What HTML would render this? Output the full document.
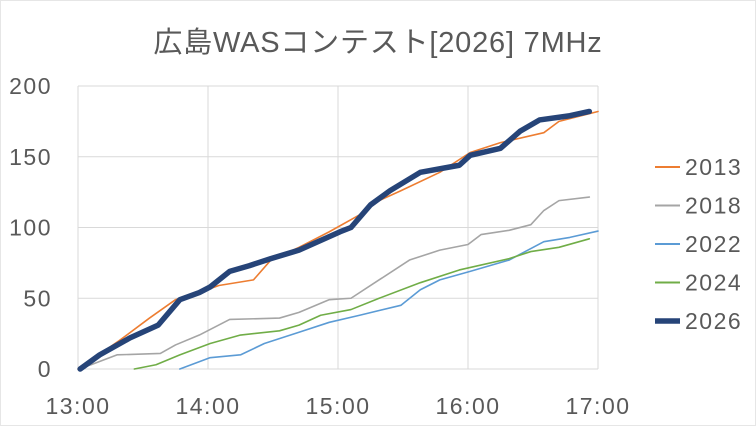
<!DOCTYPE html>
<html><head><meta charset="utf-8"><style>
body{margin:0;background:#fff;}
svg{display:block;font-family:"Liberation Sans","Noto Sans CJK JP",sans-serif;}
</style></head><body>
<svg id="chart" width="756" height="426" viewBox="0 0 756 426">
<rect x="0.5" y="0.5" width="755" height="425" fill="#fff" stroke="#e6e6e6"/>
<text x="378" y="52" text-anchor="middle" font-size="29" letter-spacing="0.8" fill="#595959">広島WASコンテスト[2026] 7MHz</text>
<g id="grid"></g><g id="series"></g><g id="axes"></g><g id="legend"></g>
</svg>
<script>
const xTicks=[0,60,120,180,240];
const xTickLabels=["13:00","14:00","15:00","16:00","17:00"];
const yTicks=[0,50,100,150,200];
const seriesNames=["2013","2018","2022","2024","2026"];
const seriesColors=["#ed7d31","#a5a5a5","#5b9bd5","#70ad47","#264478"];
const t2013=[0,19,33,45,56,65,81,89,102,116,130,139,149,167,181,195,215,222,240];
const v2013=[0,20,36,49,54,59,63,77,86,97,109,119,126,139,153,160,167,175,182];
const t2018=[0,6,18,38,45,56,70,93,102,116,126,139,153,167,180,186,199,209,215,222,236];
const v2018=[0,3,10,11,17,24,35,36,40,49,50,63,77,84,88,95,98,102,112,119,121.5];
const t2022=[47,61,75,86,102,116,130,149,158,167,181,199,215,227,240];
const v2022=[0,8,10,18,26,33,38,45,56,63,69,77,90,93,97.5];
const t2024=[26,36,47,61,75,93,102,112,126,139,158,176,199,209,222,236];
const v2024=[0,3,10,18,24,27,31,38,42,50,61,70,78,83,86,92];
const t2026=[1,10,24,37,47,56,61,70,79,89,102,121,126,135,144,158,176,181,195,204,213,227,236];
const v2026=[0,10,22,31,49,54,58,69,73,78,84,97,100,116,126,139,144,151,156,168,176,179,182];
const seriesT=[t2013,t2018,t2022,t2024,t2026];
const seriesV=[v2013,v2018,v2022,v2024,v2026];

const X0=78,X1=598,Y0=369,Y1=86;
const xs=t=>X0+(t/240)*(X1-X0);
const ys=v=>Y0-(v/200)*(Y0-Y1);
const NS="http://www.w3.org/2000/svg";
function mk(tag,parent){const e=document.createElementNS(NS,tag);document.getElementById(parent).appendChild(e);return e;}

xTicks.forEach((t,i)=>{
 const l=mk('line','grid');
 
 
 l.setAttribute('x1',xs(t));l.setAttribute('x2',xs(t));l.setAttribute('y1',Y1);l.setAttribute('y2',Y0);
 l.setAttribute('stroke','#d9d9d9');l.setAttribute('stroke-width','1');
 const tx=mk('text','axes');
 
 
 tx.setAttribute('x',xs(t));tx.setAttribute('y',414);tx.setAttribute('text-anchor','middle');
 tx.setAttribute('font-size','23');tx.setAttribute('letter-spacing','1.5');tx.setAttribute('fill','#595959');tx.textContent=xTickLabels[i];
});
yTicks.forEach(v=>{
 const l=mk('line','grid');
 
 
 l.setAttribute('x1',X0);l.setAttribute('x2',X1);l.setAttribute('y1',ys(v));l.setAttribute('y2',ys(v));
 l.setAttribute('stroke','#d9d9d9');l.setAttribute('stroke-width','1');
 const tx=mk('text','axes');
 
 
 tx.setAttribute('x',52);tx.setAttribute('y',ys(v)+8);tx.setAttribute('text-anchor','end');
 tx.setAttribute('font-size','23');tx.setAttribute('letter-spacing','1.5');tx.setAttribute('fill','#595959');tx.textContent=v;
});
seriesNames.forEach((n,i)=>{
 const p=mk('polyline','series');
 
 
 p.setAttribute('points',seriesT[i].map((t,j)=>xs(t)+','+ys(seriesV[i][j])).join(' '));
 p.setAttribute('fill','none');p.setAttribute('stroke',seriesColors[i]);
 p.setAttribute('stroke-width',n==='2026'?5.5:1.6);p.setAttribute('stroke-linejoin','round');p.setAttribute('stroke-linecap','round');
 const ly=167+i*38.5;
 const l=mk('line','legend');
 
 
 l.setAttribute('x1',655);l.setAttribute('x2',680);l.setAttribute('y1',ly);l.setAttribute('y2',ly);
 l.setAttribute('stroke',seriesColors[i]);l.setAttribute('stroke-width',n==='2026'?5.5:2);
 const tx=mk('text','legend');
 
 
 tx.setAttribute('x',685);tx.setAttribute('y',ly+8);tx.setAttribute('font-size','23');tx.setAttribute('letter-spacing','1.5');tx.setAttribute('fill','#595959');
 tx.textContent=n;
});
</script>
</body></html>
